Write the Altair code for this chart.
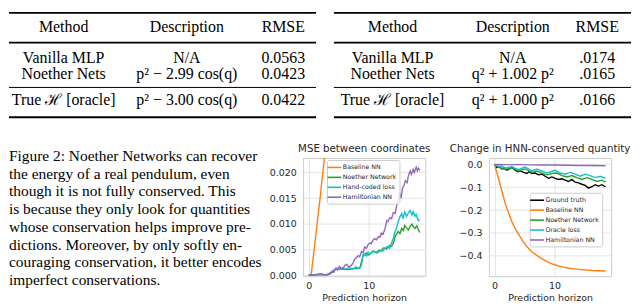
import altair as alt
import pandas as pd

SERIF = "Liberation Serif"
SANS = "DejaVu Sans"
INK = "#262626"

# ---------------- tables ----------------
table_header = ["Method", "Description", "RMSE"]
t1_methods = ["Vanilla MLP", "Noether Nets", "True ℋ [oracle]"]
t1_descriptions = ["N/A", "p² − 2.99 cos(q)", "p² − 3.00 cos(q)"]
t1_rmse = ["0.0563", "0.0423", "0.0422"]
t2_methods = ["Vanilla MLP", "Noether Nets", "True ℋ [oracle]"]
t2_descriptions = ["N/A", "q² + 1.002 p²", "q² + 1.000 p²"]
t2_rmse = [".0174", ".0165", ".0166"]

# ---------------- caption ----------------
caption_lines = [
    "Figure 2: Noether Networks can recover",
    "the energy of a real pendulum, even",
    "though it is not fully conserved.  This",
    "is because they only look for quantities",
    "whose conservation helps improve pre-",
    "dictions.  Moreover, by only softly en-",
    "couraging conservation, it better encodes",
    "imperfect conservations.",
]

# ---------------- chart 1: MSE between coordinates ----------------
mse_series = ["Baseline NN", "Noether Network", "Hand-coded loss", "Hamiltonian NN"]
mse_colors = ["#ff7f0e", "#2ca02c", "#17becf", "#9467bd"]

mse_baseline_x = [0, 0.2, 0.4, 0.6, 0.9, 1.1, 1.4, 1.6, 1.9, 2.1, 2.35, 2.6, 2.8]
mse_baseline_y = [0, 0, 0.0001, 0.0019, 0.0050, 0.0069, 0.0100, 0.0120, 0.0150, 0.0172, 0.0200, 0.0226, 0.0248]

mse_noether_x = [0, 1, 2, 3, 4.0, 4.6, 5.4, 6.3, 7.1, 7.9, 8.5, 9.05, 9.3, 9.6, 9.9, 10.2, 10.7, 11.0, 11.3, 11.8,
                 12.1, 12.4, 13.0, 13.5, 13.8, 14.1, 14.4, 14.9, 15.2, 15.5, 15.8, 16.0, 16.3, 16.6, 16.9, 17.2,
                 17.5, 17.7, 18.0, 18.3, 18.5]
mse_noether_y = [0, 0.0001, 0.0001, 0.0001, 0.0007, 0.0013, 0.0012, 0.0011, 0.0012, 0.0014, 0.0013, 0.0037,
                 0.0040, 0.0043, 0.0039, 0.0041, 0.0047, 0.0044, 0.0045, 0.0049, 0.0047, 0.0053, 0.0051, 0.0058,
                 0.0056, 0.0062, 0.0075, 0.0085, 0.0081, 0.0091, 0.0087, 0.0097, 0.0092, 0.0088, 0.0095, 0.0099,
                 0.0093, 0.0091, 0.0096, 0.0088, 0.0083]

mse_handcoded_x = [0, 1, 2, 3, 3.7, 4.0, 4.3, 4.6, 5.1, 5.4, 5.7, 6.0, 6.3, 6.8, 7.1, 7.4, 7.9, 8.2, 8.5, 8.8,
                   9.05, 9.3, 9.6, 9.9, 10.2, 10.4, 10.7, 11.0, 11.3, 11.6, 12.1, 12.4, 12.7, 13.2, 13.5, 13.8,
                   14.1, 14.4, 14.6, 14.9, 15.2, 15.5, 15.7, 16.0, 16.3, 16.6, 16.9, 17.2, 17.4, 17.7, 17.9, 18.1,
                   18.3, 18.5]
mse_handcoded_y = [0, 0.0001, 0.0002, 0.0001, 0.0003, 0.0008, 0.0011, 0.0014, 0.0011, 0.0013, 0.0015, 0.0012,
                   0.0012, 0.0015, 0.0013, 0.0012, 0.0016, 0.0013, 0.0014, 0.0020, 0.0040, 0.0041, 0.0037, 0.0045,
                   0.0041, 0.0043, 0.0047, 0.0046, 0.0043, 0.0045, 0.0049, 0.0047, 0.0053, 0.0056, 0.0052, 0.0062,
                   0.0072, 0.0085, 0.0091, 0.0104, 0.0113, 0.0120, 0.0110, 0.0123, 0.0114, 0.0121, 0.0126, 0.0117,
                   0.0124, 0.0115, 0.0118, 0.0111, 0.0106, 0.0108]

mse_hnn_x = [0, 0.5, 1, 1.5, 2, 2.5, 3, 3.5, 3.9, 4.2, 4.5, 4.8, 5.1, 5.4, 5.7, 6.0, 6.3, 6.7, 7.1, 7.4, 7.7,
             8.0, 8.2, 8.5, 8.8, 9.1, 9.3, 9.6, 9.9, 10.2, 10.4, 10.7, 11.0, 11.3, 11.6, 11.9, 12.1, 12.4, 12.7,
             13.0, 13.2, 13.5, 13.8, 14.1, 14.4, 14.6, 14.9, 15.2, 15.4, 15.6, 15.9, 16.1, 16.4, 16.6, 16.9, 17.1,
             17.4, 17.6, 17.9, 18.1, 18.3, 18.5]
mse_hnn_y = [0, 0.0001, 0, 0.0002, 0.0003, 0.0001, 0.0001, 0.0002, 0.0008, 0.0006, 0.0013, 0.0010, 0.0017,
             0.0014, 0.0012, 0.0019, 0.0021, 0.0016, 0.0019, 0.0024, 0.0032, 0.0034, 0.0038, 0.0036, 0.0046,
             0.0044, 0.0055, 0.0052, 0.0060, 0.0063, 0.0061, 0.0068, 0.0071, 0.0069, 0.0075, 0.0074, 0.0082,
             0.0080, 0.0090, 0.0106, 0.0104, 0.0112, 0.0110, 0.0122, 0.0120, 0.0132, 0.0145, 0.0158, 0.0150,
             0.0168, 0.0175, 0.0184, 0.0180, 0.0193, 0.0203, 0.0196, 0.0206, 0.0200, 0.0210, 0.0203, 0.0208,
             0.0204]

mse_ticks = [0.0, 0.005, 0.010, 0.015, 0.020]

# ---------------- chart 2: Change in HNN-conserved quantity ----------------
hnn_series = ["Ground truth", "Baseline NN", "Noether Network", "Oracle loss", "Hamiltonian NN"]
hnn_colors = ["#000000", "#ff7f0e", "#2ca02c", "#17becf", "#9467bd"]

chg_truth_x = [0, 0.39, 0.78, 1.22, 1.67, 2.06, 2.44, 2.89, 3.33, 3.89, 4.28, 4.83, 5.39, 5.78, 6.22, 6.78,
               7.33, 7.89, 8.44, 9.0, 9.56, 10.11, 10.67, 11.22, 11.78, 12.33, 12.89, 13.44, 14.0, 14.56, 15.11,
               15.67, 16.22, 16.78, 17.33, 17.89, 18.5]
chg_truth_y = [0, -0.014, -0.009, -0.020, -0.014, -0.025, -0.020, -0.013, -0.023, -0.032, -0.028, -0.035,
               -0.040, -0.032, -0.040, -0.038, -0.046, -0.042, -0.052, -0.061, -0.055, -0.061, -0.066, -0.063,
               -0.069, -0.075, -0.066, -0.078, -0.081, -0.087, -0.092, -0.104, -0.098, -0.089, -0.095, -0.089,
               -0.098]

chg_baseline_x = [0, 0.35, 0.7, 1.0, 1.3, 1.8, 2.4, 2.9, 3.5, 4.1, 4.6, 5.2, 5.8, 6.3, 7.4, 8.5, 9.6, 10.7,
                  11.5, 12.4, 13.2, 14.1, 15.2, 16.3, 17.4, 18.5]
chg_baseline_y = [0, -0.033, -0.065, -0.096, -0.123, -0.173, -0.216, -0.252, -0.284, -0.310, -0.332, -0.354,
                  -0.372, -0.385, -0.405, -0.423, -0.436, -0.445, -0.450, -0.455, -0.458, -0.460, -0.463, -0.465,
                  -0.466, -0.467]

chg_noether_x = [0, 0.67, 1.78, 2.89, 4.0, 5.11, 6.22, 7.06, 7.89, 8.72, 9.56, 10.39, 11.22, 12.06, 12.89,
                 13.72, 14.56, 15.39, 16.22, 17.06, 17.89, 18.5]
chg_noether_y = [0, -0.012, -0.023, -0.014, -0.029, -0.020, -0.035, -0.029, -0.038, -0.046, -0.040, -0.038,
                 -0.049, -0.055, -0.049, -0.058, -0.066, -0.058, -0.066, -0.075, -0.069, -0.078]

chg_oracle_x = [0, 0.67, 1.22, 1.78, 2.33, 2.89, 3.44, 4.0, 4.56, 5.11, 5.67, 6.22, 7.06, 7.89, 8.72, 9.56,
                10.11, 10.94, 11.78, 12.61, 13.44, 14.28, 15.11, 15.94, 16.78, 17.61, 18.5]
chg_oracle_y = [0, -0.009, -0.006, -0.017, -0.013, -0.009, -0.017, -0.023, -0.017, -0.012, -0.020, -0.029,
                -0.020, -0.029, -0.038, -0.030, -0.026, -0.038, -0.043, -0.035, -0.043, -0.052, -0.043, -0.049,
                -0.058, -0.052, -0.061]

chg_hnn_x = [0, 2, 4, 6, 8, 10, 12, 14, 16, 18.5]
chg_hnn_y = [0, -0.001, -0.001, -0.002, -0.003, -0.003, -0.004, -0.005, -0.005, -0.006]

chg_ticks = [0.0, -0.1, -0.2, -0.3, -0.4]
x_ticks = [0, 10]

# ---------------- layout constants ----------------
TABLE_H = 120
ROW_POS = [18, 49, 66, 92]
RULES = [(4, 1.8), (34, 1.8), (79, 1.0), (109, 1.8)]
PLOT_W, PLOT_H = 123, 119
X_DOMAIN = [-0.93, 19.43]


def make_table(methods, descs, rmses, col_pos, width):
    rows = [table_header] + [list(r) for r in zip(methods, descs, rmses)]
    recs = [{"row": ri, "col": ci, "text": t} for ri, r in enumerate(rows) for ci, t in enumerate(r)]
    df = pd.DataFrame(recs)
    text = alt.Chart(df).mark_text(font=SERIF, fontSize=16, color="black", baseline="middle").encode(
        x=alt.X("col:Q", scale=alt.Scale(domain=[0, 1, 2], range=col_pos, nice=False, zero=False), axis=None),
        y=alt.Y("row:Q", scale=alt.Scale(domain=[0, 1, 2, 3], range=ROW_POS, nice=False, zero=False), axis=None),
        text="text:N",
    )
    one = pd.DataFrame({"k": [0]})
    rules = [
        alt.Chart(one).mark_rule(color="black", strokeWidth=w).encode(
            x=alt.value(0), x2=alt.value(width), y=alt.value(yy))
        for yy, w in RULES
    ]
    return alt.layer(text, *rules).properties(width=width, height=TABLE_H)


table1 = make_table(t1_methods, t1_descriptions, t1_rmse, [55, 179, 276], 309)
table2 = make_table(t2_methods, t2_descriptions, t2_rmse, [59, 180, 265], 299)
tables = alt.hconcat(table1, table2, spacing=16)

cap_df = pd.DataFrame({"line": list(range(len(caption_lines))), "text": caption_lines})
caption = alt.Chart(cap_df).mark_text(
    font=SERIF, fontSize=15.5, color="black", align="left", baseline="middle"
).encode(
    x=alt.value(0),
    y=alt.Y("line:Q", scale=alt.Scale(domain=[0, 7], range=[-2, 123], nice=False, zero=False), axis=None),
    text="text:N",
).properties(width=255, height=123)


def series_frame(names, xs_list, ys_list):
    parts = []
    for n, xs, ys in zip(names, xs_list, ys_list):
        parts.append(pd.DataFrame({"x": xs, "y": ys, "series": n}))
    return pd.concat(parts, ignore_index=True)


def line_panel(df, names, colors, title, ydom, yticks, yfmt, lx, ly, title_dx):
    legend = alt.Legend(
        title=None, orient="none", legendX=lx, legendY=ly,
        symbolType="M-2,0H2", symbolSize=49, symbolStrokeWidth=1.6,
        labelFont=SANS, labelFontSize=6.3, labelColor=INK, labelOffset=4,
        rowPadding=2, padding=3, fillColor="rgba(255,255,255,0.8)",
        strokeColor="#cccccc", cornerRadius=2,
    )
    xaxis = alt.Axis(values=x_ticks, grid=True, gridColor="#dddddd", gridWidth=0.8, ticks=False, domain=False,
                     labelFont=SANS, labelFontSize=9.5, labelColor=INK, labelPadding=4,
                     title="Prediction horizon", titleFont=SANS, titleFontSize=9.5, titleFontWeight="normal",
                     titleColor=INK, titlePadding=3)
    yaxis = alt.Axis(values=yticks, format=yfmt, grid=True, gridColor="#dddddd", gridWidth=0.8, ticks=False,
                     domain=False, labelFont=SANS, labelFontSize=9.5, labelColor=INK, labelPadding=7, title=None)
    layers = []
    for n in names:
        layers.append(
            alt.Chart(df).transform_filter(alt.datum.series == n).mark_line(strokeWidth=1.4, clip=True).encode(
                x=alt.X("x:Q", scale=alt.Scale(domain=X_DOMAIN, nice=False, zero=False), axis=xaxis),
                y=alt.Y("y:Q", scale=alt.Scale(domain=ydom, nice=False, zero=False), axis=yaxis),
                color=alt.Color("series:N", scale=alt.Scale(domain=names, range=colors), legend=legend),
            )
        )
    tp = dict(text=title, font=SANS, fontSize=10.3, fontWeight="normal", color=INK, offset=4)
    if title_dx:
        tp["dx"] = title_dx
    return alt.layer(*layers).properties(
        width=PLOT_W, height=PLOT_H, title=alt.TitleParams(**tp),
        view=alt.ViewBackground(stroke="#cccccc", strokeWidth=1),
    )


mse_df = series_frame(mse_series,
                      [mse_baseline_x, mse_noether_x, mse_handcoded_x, mse_hnn_x],
                      [mse_baseline_y, mse_noether_y, mse_handcoded_y, mse_hnn_y])
chg_df = series_frame(hnn_series,
                      [chg_truth_x, chg_baseline_x, chg_noether_x, chg_oracle_x, chg_hnn_x],
                      [chg_truth_y, chg_baseline_y, chg_noether_y, chg_oracle_y, chg_hnn_y])

chart1 = line_panel(mse_df, mse_series, mse_colors, "MSE between coordinates",
                    [-0.0002, 0.0228], mse_ticks, ".3f", 24, 2, 0)
chart2 = line_panel(chg_df, hnn_series, hnn_colors, "Change in HNN-conserved quantity",
                    [-0.49, 0.028], chg_ticks, ".1f", 41, 35, -10)

charts = alt.hconcat(chart1, chart2, spacing=18).resolve_scale(color="independent").resolve_legend(color="independent")
bottom = alt.hconcat(caption, charts, spacing=6).resolve_scale(color="independent")

chart = alt.vconcat(tables, bottom, spacing=15).properties(
    padding=0, background="white"
).configure_view(stroke=None)

chart.save("out.html", embed_options={"renderer": "svg", "actions": False})
